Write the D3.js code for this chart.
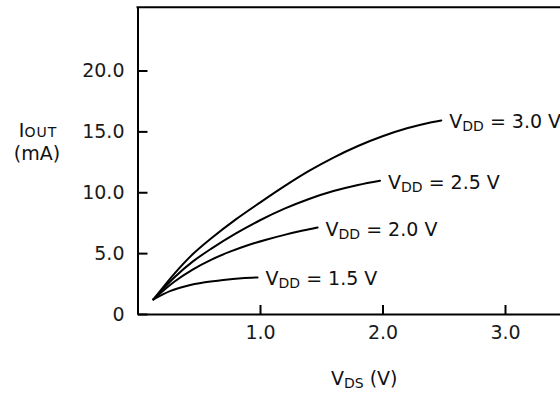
<!DOCTYPE html>
<html>
<head>
<meta charset="utf-8">
<script src="https://cdn.jsdelivr.net/npm/d3@7"></script>
<style>
  html, body { margin: 0; padding: 0; background: #fff; }
  svg { display: block; font-family: "DejaVu Sans", sans-serif; }
</style>
</head>
<body>
<svg id="chart" width="560" height="394"></svg>
<script>
// ---- data ----
const xTicks = [1, 2, 3];
const yTicks = [0, 5, 10, 15, 20];
const seriesNames = ["1.5", "2.0", "2.5", "3.0"];
const vds15 = [0.13, 0.27, 0.40, 0.55, 0.70, 0.85, 0.98];
const iout15 = [1.2, 1.9, 2.3, 2.6, 2.8, 2.94, 3.0];
const vds20 = [0.13, 0.30, 0.45, 0.60, 0.75, 0.90, 1.05, 1.20, 1.35, 1.47];
const iout20 = [1.2, 2.65, 3.65, 4.45, 5.1, 5.65, 6.1, 6.5, 6.85, 7.1];
const vds25 = [0.13, 0.30, 0.45, 0.60, 0.80, 1.00, 1.20, 1.40, 1.60, 1.80, 1.98];
const iout25 = [1.2, 3.0, 4.3, 5.35, 6.6, 7.7, 8.65, 9.45, 10.1, 10.6, 10.95];
const vds30 = [0.13, 0.30, 0.45, 0.60, 0.80, 1.00, 1.20, 1.40, 1.60, 1.80, 2.00, 2.20, 2.40, 2.48];
const iout30 = [1.2, 3.3, 4.9, 6.2, 7.75, 9.15, 10.5, 11.75, 12.85, 13.8, 14.6, 15.25, 15.75, 15.9];

const series = [
  { name: seriesNames[0], x: vds15, y: iout15 },
  { name: seriesNames[1], x: vds20, y: iout20 },
  { name: seriesNames[2], x: vds25, y: iout25 },
  { name: seriesNames[3], x: vds30, y: iout30 }
];

// ---- scales ----
const xMax = 3.45, yMax = 25.2;
const x = d3.scaleLinear().domain([0, 3]).range([137.5, 505]);
const y = d3.scaleLinear().domain([0, 20]).range([314, 70.5]);
const xFull = x.copy().domain([0, xMax]).range([x(0), x(xMax)]);
const yFull = y.copy().domain([0, yMax]).range([y(0), y(yMax)]);

const svg = d3.select("#chart");
const FS = 19;

// y axis (ticks inward)
const yAxis = svg.append("g")
  .attr("transform", `translate(${x(0)},0)`)
  .call(d3.axisLeft(yFull).tickValues(yTicks).tickSizeInner(-10).tickSizeOuter(0)
    .tickPadding(13).tickFormat(d => d === 0 ? "0" : d.toFixed(1)));
// x axis (ticks inward)
const xAxis = svg.append("g")
  .attr("transform", `translate(0,${y(0)})`)
  .call(d3.axisBottom(xFull).tickValues(xTicks).tickSizeInner(-9).tickSizeOuter(0)
    .tickPadding(12).tickFormat(d => d.toFixed(1)));

[yAxis, xAxis].forEach(g => {
  g.selectAll("path.domain").attr("stroke", "#000").attr("stroke-width", 2);
  g.selectAll(".tick line").attr("stroke", "#000").attr("stroke-width", 2);
  g.selectAll(".tick text").attr("fill", "#1a1a1a")
    .style("font-size", FS + "px").style("font-family", "'DejaVu Sans', sans-serif");
});

// top frame line
svg.append("line")
  .attr("x1", xFull(0) - 1).attr("x2", xFull(xMax))
  .attr("y1", yFull(yMax)).attr("y2", yFull(yMax))
  .attr("stroke", "#000").attr("stroke-width", 2);

// curves
const line = d3.line().x(d => x(d[0])).y(d => y(d[1])).curve(d3.curveCatmullRom.alpha(0.5));
series.forEach(s => {
  const pts = s.x.map((v, i) => [v, s.y[i]]);
  svg.append("path").datum(pts)
    .attr("d", line)
    .attr("fill", "none").attr("stroke", "#000").attr("stroke-width", 2)
    .attr("stroke-linecap", "round");
  const last = pts[pts.length - 1];
  const t = svg.append("text")
    .attr("x", x(last[0]) + 8).attr("y", y(last[1]) + 8)
    .attr("fill", "#111").style("font-size", FS + "px");
  t.append("tspan").text("V");
  t.append("tspan").attr("dy", 3).style("font-size", "14px").text("DD");
  t.append("tspan").attr("dy", -3).text(" = " + s.name + " V");
});

// y title
const yt = svg.append("text").attr("x", 38).attr("y", 137)
  .attr("text-anchor", "middle").attr("fill", "#111").style("font-size", FS + "px");
yt.append("tspan").text("I");
yt.append("tspan").style("font-size", "14px").attr("letter-spacing", "1").text("OUT");
svg.append("text").attr("x", 37).attr("y", 160)
  .attr("text-anchor", "middle").attr("fill", "#111").style("font-size", FS + "px").text("(mA)");

// x title
const xt = svg.append("text").attr("x", 331).attr("y", 385)
  .attr("fill", "#111").style("font-size", FS + "px");
xt.append("tspan").text("V");
xt.append("tspan").attr("dy", 3).style("font-size", "14px").text("DS");
xt.append("tspan").attr("dy", -3).text(" (V)");
</script>
</body>
</html>
